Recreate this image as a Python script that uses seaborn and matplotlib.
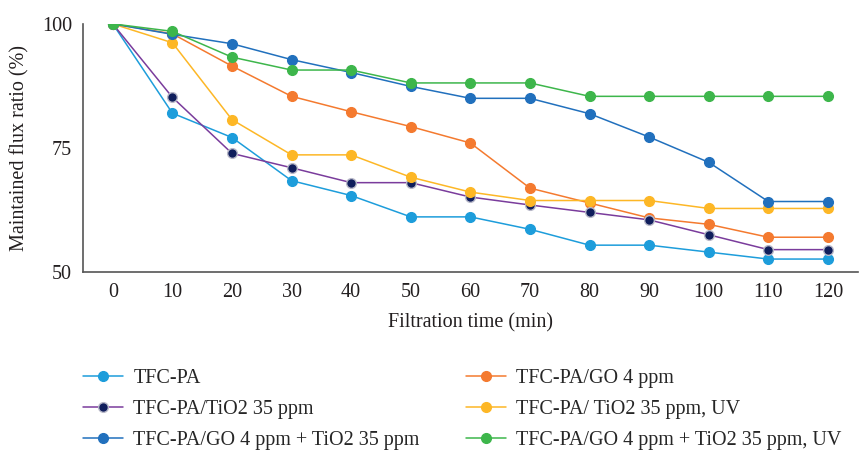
import matplotlib
matplotlib.use('Agg')
import matplotlib.pyplot as plt
import seaborn as sns
import pandas as pd

# time points (min)
time = [0, 10, 20, 30, 40, 50, 60, 70, 80, 90, 100, 110, 120]

# maintained flux ratio (%)
tfc_pa = [100, 82, 77.1, 68.4, 65.4, 61.1, 61.1, 58.6, 55.4, 55.4, 54, 52.6, 52.6]
tfc_go = [100, 98, 91.5, 85.4, 82.3, 79.3, 76, 66.9, 63.9, 60.9, 59.6, 57, 57]
tfc_tio2 = [100, 85.2, 73.9, 71, 68, 68, 65.1, 63.5, 62, 60.5, 57.5, 54.5, 54.5]
tfc_tio2_uv = [100, 96.2, 80.7, 73.6, 73.6, 69.1, 66.1, 64.4, 64.4, 64.4, 62.8, 62.8, 62.8]
tfc_go_tio2 = [100, 97.9, 96, 92.8, 90.2, 87.4, 85, 85, 81.9, 77.2, 72.1, 64.2, 64.2]
tfc_go_tio2_uv = [100, 98.5, 93.3, 90.7, 90.7, 88.1, 88.1, 88.1, 85.4, 85.4, 85.4, 85.4, 85.4]

labels = ['TFC-PA', 'TFC-PA/GO 4 ppm', 'TFC-PA/TiO2 35 ppm', 'TFC-PA/ TiO2 35 ppm, UV',
          'TFC-PA/GO 4 ppm + TiO2 35 ppm', 'TFC-PA/GO 4 ppm + TiO2 35 ppm, UV']
series = [tfc_pa, tfc_go, tfc_tio2, tfc_tio2_uv, tfc_go_tio2, tfc_go_tio2_uv]

line_colors = ['#1d9ddb', '#f47a2f', '#7a3c9c', '#fdb726', '#2170bd', '#3db64b']
marker_colors = ['#1d9ddb', '#f47a2f', '#101e5c', '#fdb726', '#2170bd', '#3db64b']
edge_colors = ['#1d9ddb', '#f47a2f', '#b8b8c8', '#fdb726', '#2170bd', '#3db64b']

df = pd.concat([pd.DataFrame({'time': time, 'ratio': v, 'sample': lab})
                for lab, v in zip(labels, series)], ignore_index=True)

sns.set_theme(style='white')
plt.rcParams['font.family'] = ['Liberation Serif', 'DejaVu Serif']

FS = 14.5
fig = plt.figure(figsize=(8.62, 4.51), dpi=100)
ax = fig.add_axes([0.0963, 0.397, 0.8987, 0.55])

handles = {}
for lab, lc, mc, ec in zip(labels, line_colors, marker_colors, edge_colors):
    sns.lineplot(data=df[df['sample'] == lab], x='time', y='ratio', ax=ax,
                 color=lc, marker='o', markersize=7, markerfacecolor=mc,
                 markeredgecolor=ec, markeredgewidth=1, linewidth=1.1,
                 label=lab, legend=False)
    handles[lab] = ax.lines[-1]

ax.set_xlim(-5, 125)
ax.set_ylim(50, 100)
ax.set_xticks(time)
ax.set_yticks([50, 75, 100])
ax.tick_params(axis='both', labelsize=FS, length=0, pad=8, colors='#231f20')
ax.set_xlabel('Filtration time (min)', fontsize=FS, color='#231f20', labelpad=8)
ax.set_ylabel('Maintained flux ratio (%)', fontsize=FS, color='#231f20', labelpad=9)

for side in ['top', 'right']:
    ax.spines[side].set_visible(False)
for side in ['left', 'bottom']:
    ax.spines[side].set_color('#555555')
    ax.spines[side].set_linewidth(1.2)

# legend fills column-wise, so reorder to get the reference's row layout
order = [labels[0], labels[2], labels[4], labels[1], labels[3], labels[5]]
fig.legend([handles[l] for l in order], order, loc='upper left',
           bbox_to_anchor=(0.087, 0.2), ncol=2, frameon=False, fontsize=FS,
           handlelength=2.0, handletextpad=0.5, columnspacing=2.3,
           labelspacing=0.6, borderaxespad=0)

fig.savefig('out.png', dpi=100)
